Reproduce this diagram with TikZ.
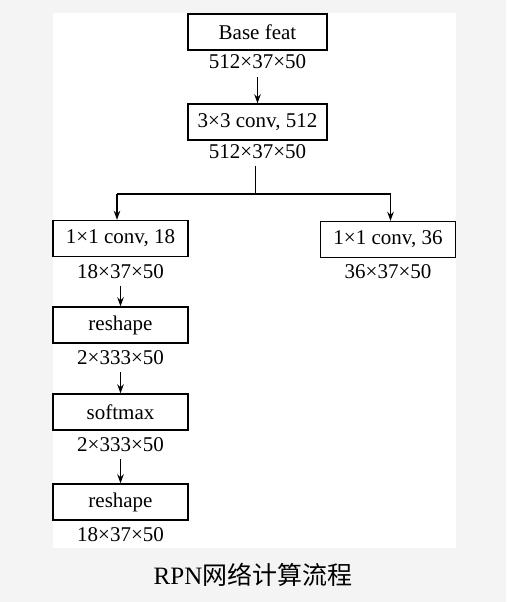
\documentclass[tikz,border=0pt]{standalone}
\usepackage{fontspec}
\setmainfont{Liberation Serif}
\newfontfamily\cjk{Noto Sans CJK SC}
\usetikzlibrary{arrows.meta}
\begin{document}
\begin{tikzpicture}[x=1pt,y=-1pt,
  box/.style={draw, line width=1.4pt, minimum width=135pt, minimum height=36pt, inner sep=0pt, font=\fontsize{21}{24}\selectfont},
  dim/.style={inner sep=3pt, font=\fontsize{21}{24}\selectfont},
  arr/.style={line width=1.2pt, -{Stealth[length=9pt,width=6.5pt]}},
  ln/.style={line width=1.2pt}]
\fill[gray!9] (0,0) rectangle (506,602);
\fill[white] (53,13) rectangle (456,548);
\useasboundingbox (0,0) rectangle (506,602);
% top column
\node[box, minimum width=139pt] (b1) at (257.5,32) {Base feat};
\node[dim] (l1) at (257.5,62) {512×37×50};
\node[box, minimum width=139pt] (b2) at (257.5,122) {3×3 conv, 512};
\node[dim] (l2) at (257.5,152) {512×37×50};
\draw[arr, shorten <=5pt] (l1) -- (b2);
% branches
\node[box] (c1) at (120.5,238.5) {1×1 conv, 18};
\node[dim] (m1) at (120.5,272) {18×37×50};
\node[box] (c2) at (388,239.5) {1×1 conv, 36};
\node[dim] (m2) at (388,272) {36×37×50};
\coordinate (j) at (255.5,194);
\coordinate (jl) at (117,194);
\coordinate (jr) at (390.5,194);
\draw[ln, shorten <=4pt] (l2.south -| j) -- (j);
\draw[ln] (jl) -- (jr);
\draw[arr] (jl) -- (jl |- c1.north);
\draw[arr] (jr) -- (jr |- c2.north);
% left column
\node[box] (r1) at (120.5,325) {reshape};
\node[dim] (m3) at (120.5,358) {2×333×50};
\node[box] (s1) at (120.5,412) {softmax};
\node[dim] (m4) at (120.5,445) {2×333×50};
\node[box] (r2) at (120.5,502) {reshape};
\node[dim] (m5) at (120.5,535) {18×37×50};
\draw[arr, shorten <=4pt] (m1) -- (r1);
\draw[arr, shorten <=4pt] (m3) -- (s1);
\draw[arr, shorten <=4pt] (m4) -- (r2);
% caption
\node[inner sep=0pt, font=\fontsize{25}{28}\selectfont] (cap) at (253,575) {RPN{\cjk 网络计算流程}};
\end{tikzpicture}
\end{document}
